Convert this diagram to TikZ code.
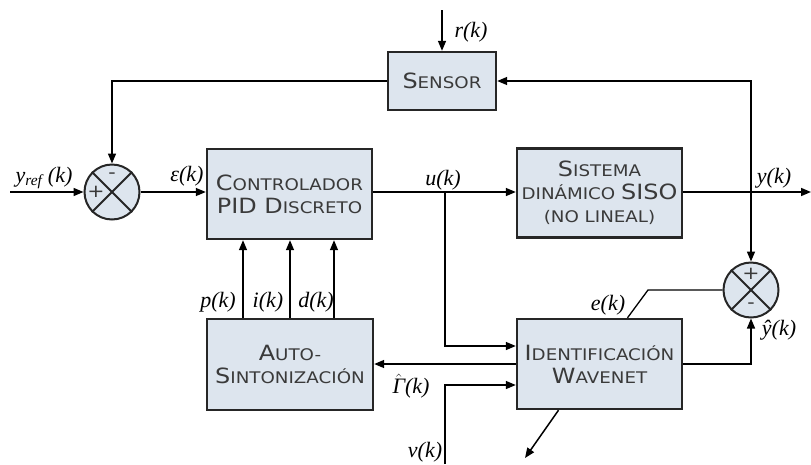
\documentclass[tikz,border=0pt]{standalone}
\usepackage{fontspec}
\setmainfont{Liberation Serif}
\newfontfamily\boxfont{DejaVu Sans}[FakeStretch=1.14]
\usetikzlibrary{arrows.meta}

\definecolor{boxfill}{RGB}{221,229,238}
\definecolor{boxtext}{RGB}{58,58,58}

% small caps by hand: big first letters, small rest
\newcommand\smcap[2]{{\fontsize{21}{23}\selectfont #1}{\fontsize{16}{23}\selectfont #2}}

\begin{document}
\begin{tikzpicture}
    [
        x=1pt, y=-1pt,
        block/.style={rectangle, draw=black!85, line width=2.4pt, fill=boxfill,
            text=boxtext, align=center, font=\boxfont\fontsize{16}{23}\selectfont},
        sumj/.style={circle, draw=black!85, line width=2pt, fill=boxfill, minimum size=55pt, inner sep=0pt},
        sig/.style={line width=1.5pt, -{Triangle[length=10pt,width=8pt]}},
        wire/.style={line width=1.3pt},
        lbl/.style={font=\fontsize{22}{22}\selectfont\itshape},
        sgn/.style={font=\boxfont\fontsize{18}{18}\selectfont, text=boxtext, inner sep=0pt},
    ]
        \useasboundingbox (0,0) rectangle (811,464);

        % blocks
        \node[block, minimum width=108pt, minimum height=58pt] (SEN) at (442,81) {\smcap{S}{ENSOR}};
        \node[block, minimum width=165pt, minimum height=90pt] (PID) at (289.5,194) {\smcap{C}{ONTROLADOR}\\\smcap{PID D}{ISCRETO}};
        \node[block, minimum width=165pt, minimum height=89pt] (SYS) at (599.5,193) {\smcap{S}{ISTEMA}\\\smcap{}{DINÁMICO }\smcap{SISO}{}\\\smcap{}{(NO LINEAL)}};
        \node[block, minimum width=166pt, minimum height=91pt] (AUTO) at (290,364.5) {\smcap{A}{UTO-}\\\smcap{S}{INTONIZACIÓN}};
        \node[block, minimum width=165pt, minimum height=90pt] (ID) at (599.5,364) {\smcap{I}{DENTIFICACIÓN}\\\smcap{W}{AVENET}};

        % summing junctions
        \node[sumj] (S1) at (112,192) {};
        \node[sumj] (S2) at (751,290) {};
        \foreach \s in {S1, S2} {
            \draw[line width=2pt, black!85] (\s.45) -- (\s.225);
            \draw[line width=2pt, black!85] (\s.135) -- (\s.315);
        }
        \node[sgn] (S1m) at ([yshift=16pt]S1.center) {-};
        \node[sgn] (S1p) at ([xshift=-16pt]S1.center) {+};
        \node[sgn] (S2p) at ([yshift=16pt]S2.center) {+};
        \node[sgn] (S2m) at ([yshift=-16pt]S2.center) {-};

        % free ends and branch points
        \coordinate (yin) at (10,192);
        \coordinate (rin) at (442,10);
        \coordinate (yout) at (811,192);
        \coordinate (yb) at (751,192);
        \coordinate (ub) at (445,192);
        \coordinate (vin) at (445,464);
        \coordinate (ek) at (648,290);
        \coordinate (wout) at (525,458);

        \draw[sig] (yin) -- (S1.west);
        \draw[sig] (S1.east) -- (S1.east -| PID.west);
        \draw[sig] (rin) -- (SEN.north);
        \draw[sig] (SEN.west) -| (S1.north);
        \draw[sig] (PID.east |- ub) -- (SYS.west |- ub);
        \draw[sig] (ub) |- ([yshift=18pt]ID.west);
        \draw[sig] (vin) |- ([yshift=-21pt]ID.west);
        \draw[sig] (ID.west) -- (ID.west -| AUTO.east);
        \draw[sig] (SYS.east |- yout) -- (yout);
        \draw[sig] (yb) |- (SEN.east);
        \draw[sig] (yb) -- (S2.north);
        \draw[sig] (ID.east) -| (S2.south);
        \draw[wire] (S2.west) -- (ek) -- ([xshift=28pt]ID.north);
        \draw[sig] ([xshift=-41pt]ID.south) -- (wout);
        \foreach \dx in {-47, 0, 44}
            \draw[sig] ([xshift=\dx pt]AUTO.north) -- ([xshift=\dx pt]AUTO.north |- PID.south);

        % signal labels
        \node[lbl] (Lyref) at (44,178) {y\textsubscript{ref} (k)};
        \node[lbl] (Leps) at (187,176) {ε(k)};
        \node[lbl] (Lr) at (471,32) {r(k)};
        \node[lbl] (Lu) at (443,180) {u(k)};
        \node[lbl] (Ly) at (774,178) {y(k)};
        \node[lbl] (Lp) at (218,302) {p(k)};
        \node[lbl] (Li) at (268,302) {i(k)};
        \node[lbl] (Ld) at (316,302) {d(k)};
        \node[lbl] (Le) at (608,305) {e(k)};
        \node[lbl] (Lyh) at (779,330) {ŷ(k)};
        \node[lbl] (Lg) at (411,386) {$\hat{\textit{Γ}}$(k)};
        \node[lbl] (Lv) at (425,452) {v(k)};
\end{tikzpicture}
\end{document}
